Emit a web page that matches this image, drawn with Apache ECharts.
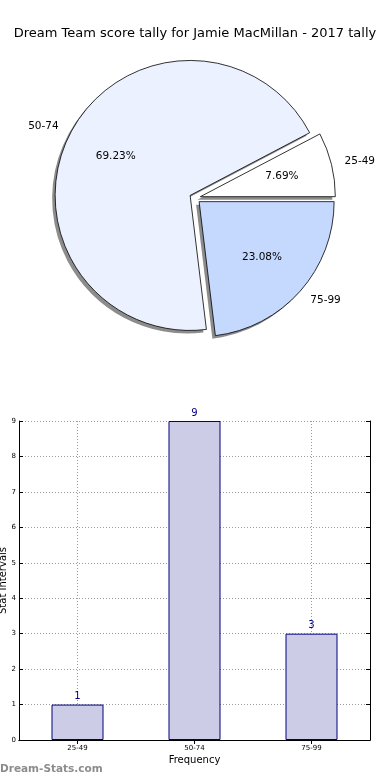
<!DOCTYPE html>
<html>
<head>
<meta charset="utf-8">
<script src="https://cdn.jsdelivr.net/npm/echarts@6/dist/echarts.min.js"></script>
<style>
html,body{margin:0;padding:0;background:#fff;}
#c{width:390px;height:780px;}
</style>
</head>
<body>
<div id="c"></div>
<script>
const titleText = 'Dream Team score tally for Jamie MacMillan - 2017 tally';
const categories = ['25-49', '50-74', '75-99'];
const counts = [1, 9, 3];
const pieColors = ['#ffffff', '#ebf1fe', '#c5d8fe'];
const yMin = 0, yMax = 9, yStep = 1;

const FONT = 'DejaVu Sans';
const R = 135;
const center = [195, 198];
const shadowCenter = [192, 201];

const chart = echarts.init(document.getElementById('c'), null, {renderer: 'canvas'});

const pieData = categories.map((c, i) => ({
  name: c, value: counts[i], selected: true,
  itemStyle: {color: pieColors[i]}
}));
const plainData = categories.map((c, i) => ({
  name: c, value: counts[i], selected: true
}));

const gridLine = {color: '#9a9a9a', type: [1, 2], width: 1};

chart.setOption({
  animation: false,
  backgroundColor: '#fff',
  title: {
    text: titleText, left: 'center', top: 22,
    textStyle: {fontFamily: FONT, fontSize: 13, fontWeight: 'normal', color: '#000'}
  },
  graphic: [{
    type: 'text', left: 0, top: 764,
    style: {text: 'Dream-Stats.com', fill: '#8c8c8c', font: 'bold 10.5px "DejaVu Sans"'}
  }],
  grid: {left: 19, right: 20, top: 421, bottom: 40, show: false, containLabel: false, outerBoundsMode: 'none'},
  xAxis: [{
    type: 'category', data: categories, position: 'bottom',
    name: 'Frequency', nameLocation: 'middle', nameGap: 15, nameMoveOverlap: false,
    nameTextStyle: {fontFamily: FONT, fontSize: 10, color: '#000'},
    axisLine: {show: true, lineStyle: {color: '#000', width: 1}},
    axisTick: {show: true, inside: true, alignWithLabel: true, length: 4, lineStyle: {color: '#000'}},
    axisLabel: {fontFamily: FONT, fontSize: 7, color: '#000', margin: 5},
    splitLine: {show: true, alignWithLabel: true, lineStyle: gridLine}
  }, {
    type: 'category', data: categories, position: 'top',
    axisLine: {show: true, lineStyle: {color: '#000', width: 1}},
    axisTick: {show: true, inside: true, alignWithLabel: true, length: 4, lineStyle: {color: '#000'}},
    axisLabel: {show: false},
    splitLine: {show: false}
  }],
  yAxis: [{
    type: 'value', min: yMin, max: yMax, interval: yStep, position: 'left',
    name: 'Stat Intervals', nameLocation: 'middle', nameGap: 11, nameRotate: 90, nameMoveOverlap: false,
    nameTextStyle: {fontFamily: FONT, fontSize: 10, color: '#000'},
    axisLine: {show: true, lineStyle: {color: '#000', width: 1}},
    axisTick: {show: true, inside: true, length: 4, lineStyle: {color: '#000'}},
    axisLabel: {fontFamily: FONT, fontSize: 7, color: '#000', margin: 3},
    splitLine: {show: true, lineStyle: gridLine}
  }, {
    type: 'value', min: yMin, max: yMax, interval: yStep, position: 'right',
    axisLine: {show: true, lineStyle: {color: '#000', width: 1}},
    axisTick: {show: true, inside: true, length: 4, lineStyle: {color: '#000'}},
    axisLabel: {show: false},
    splitLine: {show: false}
  }],
  series: [{
    // shadow layer
    type: 'pie',
    center: shadowCenter, radius: [0, R],
    startAngle: 0, clockwise: false,
    selectedMode: 'multiple', selectedOffset: 5.5,
    silent: true, avoidLabelOverlap: false,
    data: plainData,
    itemStyle: {color: 'rgba(0,0,0,0.45)', borderWidth: 0},
    label: {show: false}, labelLine: {show: false},
    emphasis: {disabled: true},
    select: {itemStyle: {color: 'rgba(0,0,0,0.45)', borderWidth: 0}}
  }, {
    type: 'pie',
    center: center, radius: [0, R],
    startAngle: 0, clockwise: false,
    selectedMode: 'multiple', selectedOffset: 5.5,
    avoidLabelOverlap: false,
    data: pieData,
    itemStyle: {borderColor: '#000', borderWidth: 0.8},
    label: {
      show: true, position: 'outside', formatter: '{b}',
      fontFamily: FONT, fontSize: 10.5, color: '#000', distanceToLabelLine: 0
    },
    labelLine: {show: false, length: R * 0.1, length2: 0},
    emphasis: {disabled: true},
    select: {itemStyle: {borderColor: '#000', borderWidth: 0.8}}
  }, {
    type: 'pie',
    center: center, radius: [R * 0.2, R],
    startAngle: 0, clockwise: false,
    selectedMode: 'multiple', selectedOffset: 5.5,
    silent: true, avoidLabelOverlap: false,
    data: plainData,
    itemStyle: {color: 'rgba(0,0,0,0)', borderWidth: 0},
    label: {
      show: true, position: 'inside', formatter: '{d}%',
      fontFamily: FONT, fontSize: 10.5, color: '#000'
    },
    labelLine: {show: false},
    emphasis: {disabled: true},
    select: {itemStyle: {color: 'rgba(0,0,0,0)', borderWidth: 0}}
  }, {
    type: 'bar',
    xAxisIndex: 0, yAxisIndex: 0,
    data: counts,
    barWidth: 52,
    itemStyle: {color: '#cccce6', borderColor: '#000080', borderWidth: 1},
    label: {show: true, position: 'top', distance: 3, fontFamily: FONT, fontSize: 10, color: '#000080'},
    emphasis: {disabled: true}
  }]
});
</script>
</body>
</html>
